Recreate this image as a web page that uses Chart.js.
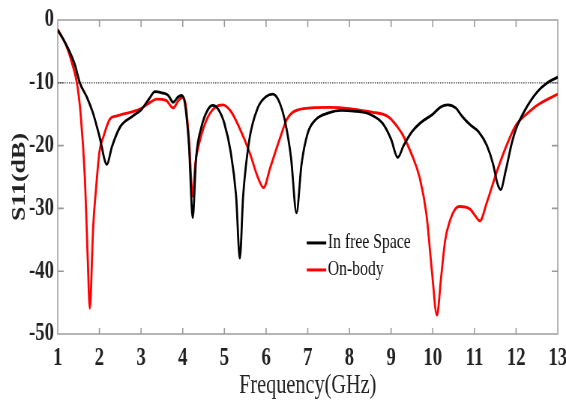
<!DOCTYPE html>
<html lang="en">
<head>
<meta charset="UTF-8">
<title>S11 - free space vs on-body</title>
<script src="https://cdn.jsdelivr.net/npm/chart.js"></script>
<style>
  html, body { margin: 0; padding: 0; background: #fff; overflow: hidden; }
  /* drawn wide, shown narrow: gives the condensed serif look */
  #s11Chart { width: 566px !important; height: 404px !important; }
</style>
</head>
<body>
<canvas id="s11Chart" width="755" height="404"></canvas>
<script>
// In free space
const freqFree = [1.0, 1.2, 1.41, 1.53, 1.7, 1.84, 2.0, 2.18, 2.3, 2.5, 2.8, 3.0, 3.2, 3.33, 3.5, 3.65, 3.77, 3.88, 3.97, 4.05, 4.15, 4.24, 4.32, 4.45, 4.6, 4.72, 4.85, 5.0, 5.15, 5.28, 5.37, 5.45, 5.6, 5.8, 6.0, 6.16, 6.3, 6.45, 6.6, 6.73, 6.85, 7.0, 7.2, 7.5, 7.8, 8.1, 8.49, 8.8, 9.0, 9.16, 9.3, 9.5, 9.7, 10.0, 10.2, 10.36, 10.55, 10.7, 10.9, 11.1, 11.3, 11.45, 11.55, 11.63, 11.75, 11.9, 12.0, 12.2, 12.5, 12.75, 13.0];
const s11Free = [-1.6, -3.9, -7.1, -10, -12.3, -14.7, -18.5, -23.0, -20.2, -17.0, -15.3, -14.3, -12.5, -11.4, -11.6, -12.0, -13.1, -12.3, -12.0, -13.2, -20.0, -31.5, -22.0, -17.0, -14.3, -13.6, -14.2, -16.5, -21.0, -28.0, -37.9, -28.0, -19.0, -14.0, -12.2, -11.8, -12.8, -16.0, -22.0, -30.7, -23.0, -18.0, -15.8, -14.8, -14.4, -14.5, -15.0, -16.5, -19.0, -21.9, -20.0, -17.8, -16.4, -15.0, -13.8, -13.5, -14.0, -15.3, -16.7, -17.8, -20.0, -23.0, -26.0, -27.0, -24.0, -19.5, -17.3, -14.5, -11.5, -10.0, -9.1];

// On-body
const freqBody = [1.0, 1.2, 1.34, 1.46, 1.55, 1.65, 1.72, 1.77, 1.85, 1.93, 2.0, 2.1, 2.25, 2.4, 2.56, 2.97, 3.2, 3.37, 3.6, 3.77, 3.9, 4.0, 4.07, 4.15, 4.24, 4.3, 4.4, 4.6, 4.8, 4.96, 5.15, 5.37, 5.6, 5.8, 5.94, 6.1, 6.33, 6.5, 6.64, 6.9, 7.53, 8.0, 8.56, 8.8, 8.97, 9.15, 9.28, 9.5, 9.69, 9.85, 9.98, 10.1, 10.2, 10.3, 10.41, 10.55, 10.65, 10.89, 11.0, 11.13, 11.3, 11.54, 11.8, 12.0, 12.25, 12.5, 13.0];
const s11Body = [-1.5, -4.0, -6.8, -10.0, -15.0, -25.0, -38.0, -45.9, -33.0, -26.0, -21.0, -18.5, -15.8, -15.3, -15.0, -14.2, -13.2, -12.6, -12.8, -14.0, -12.8, -12.3, -13.5, -19.0, -28.1, -23.0, -19.5, -15.5, -13.8, -13.5, -14.5, -17.3, -21.0, -25.0, -26.7, -23.5, -18.9, -15.8, -14.7, -14.1, -13.9, -14.1, -14.7, -15.0, -15.6, -17.0, -18.3, -21.5, -25.2, -31.0, -40.0, -47.0, -41.0, -35.0, -32.0, -30.0, -29.7, -30.1, -31.0, -32.0, -29.0, -24.1, -19.5, -16.7, -15.0, -13.6, -11.8];

// -10 dB reference
const refLevel = -10;

const xTicks = [1, 2, 3, 4, 5, 6, 7, 8, 9, 10, 11, 12, 13];
const yTicks = [0, -10, -20, -30, -40, -50];

const serif = "'Liberation Serif', 'Times New Roman', serif";

const toPoints = (xs, ys) => xs.map((x, i) => ({ x: x, y: ys[i] }));

// box round the plot with inward tick marks on all four sides
const frameTicks = {
  id: 'frameTicks',
  beforeDatasetsDraw(chart) {
    const { ctx, chartArea: a, scales: { x, y } } = chart;
    ctx.save();
    ctx.strokeStyle = '#b5b5b5';
    ctx.lineWidth = 2;
    ctx.strokeRect(a.left, a.top, a.right - a.left, a.bottom - a.top);
    ctx.lineWidth = 1.6;
    ctx.strokeStyle = '#9a9a9a';
    ctx.beginPath();
    xTicks.slice(1, -1).forEach(v => {
      const px = x.getPixelForValue(v);
      ctx.moveTo(px, a.bottom); ctx.lineTo(px, a.bottom - 6);
      ctx.moveTo(px, a.top); ctx.lineTo(px, a.top + 7);
    });
    yTicks.slice(1, -1).forEach(v => {
      const py = y.getPixelForValue(v);
      ctx.moveTo(a.left, py); ctx.lineTo(a.left + 8, py);
      ctx.moveTo(a.right, py); ctx.lineTo(a.right - 8, py);
    });
    ctx.stroke();
    ctx.restore();
  }
};

// legend inside the plot, lower middle
const innerLegend = {
  id: 'innerLegend',
  afterDraw(chart) {
    const { ctx, chartArea: a } = chart;
    const x0 = a.left + (a.right - a.left) * 0.498;
    let y0 = a.top + (a.bottom - a.top) * 0.71;
    ctx.save();
    ctx.font = '21px ' + serif;
    ctx.textBaseline = 'middle';
    ctx.fillStyle = '#111';
    chart.data.datasets.forEach(ds => {
      if (!ds.label) return;
      ctx.strokeStyle = ds.borderColor;
      ctx.lineWidth = 3;
      ctx.beginPath();
      ctx.moveTo(x0, y0);
      ctx.lineTo(x0 + 26, y0);
      ctx.stroke();
      ctx.fillText(ds.label, x0 + 28, y0);
      y0 += 27;
    });
    ctx.restore();
  }
};

new Chart(document.getElementById('s11Chart'), {
  type: 'line',
  data: {
    datasets: [
      {
        label: 'In free Space',
        data: toPoints(freqFree, s11Free),
        borderColor: '#000000',
        borderWidth: 2.8,
        pointRadius: 0,
        cubicInterpolationMode: 'monotone'
      },
      {
        label: 'On-body',
        data: toPoints(freqBody, s11Body),
        borderColor: '#ff0000',
        borderWidth: 2.8,
        pointRadius: 0,
        cubicInterpolationMode: 'monotone'
      },
      {
        label: '',
        data: toPoints([xTicks[0], xTicks[xTicks.length - 1]], [refLevel, refLevel]),
        borderColor: '#444',
        borderWidth: 1.2,
        borderDash: [1.5, 1.5],
        pointRadius: 0
      }
    ]
  },
  options: {
    responsive: false,
    animation: false,
    layout: { padding: { top: 17, right: 11, left: 0, bottom: 0 } },
    plugins: {
      legend: { display: false },
      tooltip: { enabled: false }
    },
    scales: {
      x: {
        type: 'linear',
        min: 1,
        max: 13,
        afterFit: s => { s.height = 70; s.paddingRight = 0; },
        afterBuildTicks: s => { s.ticks = xTicks.map(v => ({ value: v })); },
        grid: { display: false, drawTicks: false },
        border: { display: false },
        ticks: {
          padding: 10,
          color: '#222',
          font: { family: serif, size: 25, weight: 'bold' }
        },
        title: {
          display: true,
          text: 'Frequency(GHz)',
          color: '#222',
          padding: { top: 0, bottom: 2 },
          font: { family: serif, size: 27 }
        }
      },
      y: {
        min: -50,
        max: 0,
        afterFit: s => { s.width = 77; },
        afterBuildTicks: s => { s.ticks = yTicks.map(v => ({ value: v })); },
        grid: { display: false, drawTicks: false },
        border: { display: false },
        ticks: {
          padding: 5,
          color: '#222',
          font: { family: serif, size: 25, weight: 'bold' }
        },
        title: {
          display: true,
          text: 'S11(dB)',
          color: '#222',
          padding: { top: 11, bottom: 0 },
          font: { family: serif, size: 26, weight: 'bold' }
        }
      }
    }
  },
  plugins: [frameTicks, innerLegend]
});
</script>
</body>
</html>
